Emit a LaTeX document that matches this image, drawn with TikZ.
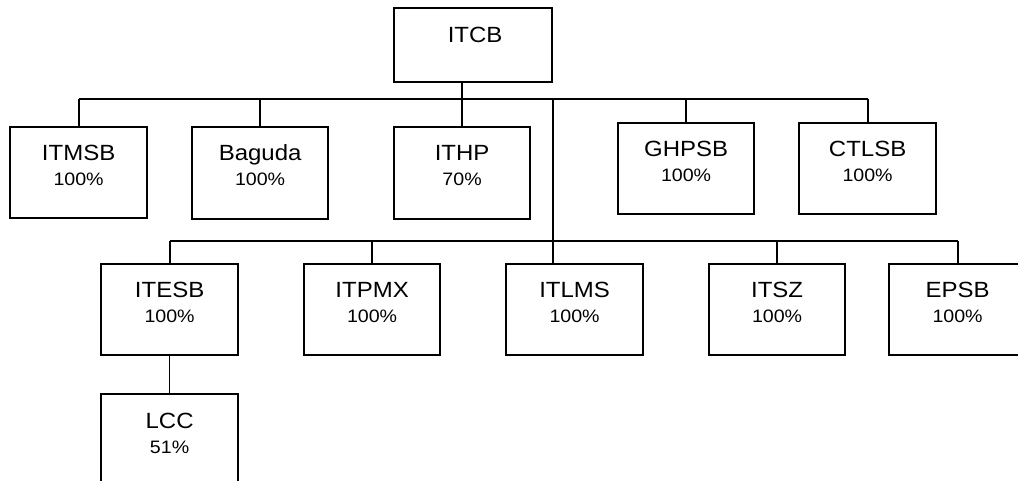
\documentclass[tikz,border=0pt]{standalone}
\usepackage{fontspec}
\setmainfont{Liberation Sans}[FakeStretch=1.09]
\begin{document}
\begin{tikzpicture}[x=1pt,y=-1pt,
  orgbox/.style={draw=black, line width=2.2pt, fill=none, inner sep=0pt, anchor=north west},
  ttl/.style={anchor=base, inner sep=0pt, font=\fontsize{22}{24}\selectfont},
  pct/.style={anchor=base, inner sep=0pt, font=\fontsize{18}{20}\selectfont},
  conn/.style={draw=black, line width=1.8pt},
  thinconn/.style={draw=black, line width=1.2pt}]
\useasboundingbox (0,0) rectangle (1018,481);
\clip (0,0) rectangle (1018,481);
\newcommand\orgunit[7]{%
  \node[orgbox, minimum width=#4pt, minimum height=#5pt] (#1) at (#2,#3) {};
  \node[ttl] (#1t) at ([yshift=-35pt]#1.north) {#6};
  \node[pct] (#1p) at ([yshift=-60pt]#1.north) {#7};}
% top
\node[orgbox, minimum width=158pt, minimum height=74pt] (itcb) at (393,7) {};
\node[ttl] (itcbt) at ([yshift=-36pt, xshift=2pt]itcb.north) {ITCB};
% row 1
\orgunit{itmsb}{9}{126}{137}{91}{ITMSB}{100\%}
\orgunit{baguda}{191}{126}{136}{92}{Baguda}{100\%}
\orgunit{ithp}{393}{126}{136}{92}{ITHP}{70\%}
\orgunit{ghpsb}{617}{122}{136}{91}{GHPSB}{100\%}
\orgunit{ctlsb}{798}{122}{137}{91}{CTLSB}{100\%}
% row 2
\orgunit{itesb}{100}{263}{137}{91}{ITESB}{100\%}
\orgunit{itpmx}{303}{263}{136}{91}{ITPMX}{100\%}
\orgunit{itlms}{505}{263}{137}{91}{ITLMS}{100\%}
\orgunit{itsz}{708}{263}{136}{91}{ITSZ}{100\%}
\orgunit{epsb}{888}{263}{137}{91}{EPSB}{100\%}
% row 3
\orgunit{lcc}{100}{393}{137}{91}{LCC}{51\%}
% buses
\coordinate (busA) at (0,99);
\coordinate (busB) at (0,241);
\draw[conn] (itmsb.north |- busA) -- (ctlsb.north |- busA);
\draw[conn] (itcb.south -| ithp.north) -- (ithp.north);
\draw[conn] (itmsb.north |- busA) -- (itmsb.north);
\draw[conn] (baguda.north |- busA) -- (baguda.north);
\draw[conn] (ghpsb.north |- busA) -- (ghpsb.north);
\draw[conn] (ctlsb.north |- busA) -- (ctlsb.north);
\draw[conn] (itcb.south east |- busA) -- (itcb.south east |- itlms.north);
\draw[conn] (itesb.north |- busB) -- (epsb.north |- busB);
\draw[conn] (itesb.north |- busB) -- (itesb.north);
\draw[conn] (itpmx.north |- busB) -- (itpmx.north);
\draw[conn] (itsz.north |- busB) -- (itsz.north);
\draw[conn] (epsb.north |- busB) -- (epsb.north);
\draw[thinconn] (itesb.south) -- (lcc.north);
\end{tikzpicture}
\end{document}
